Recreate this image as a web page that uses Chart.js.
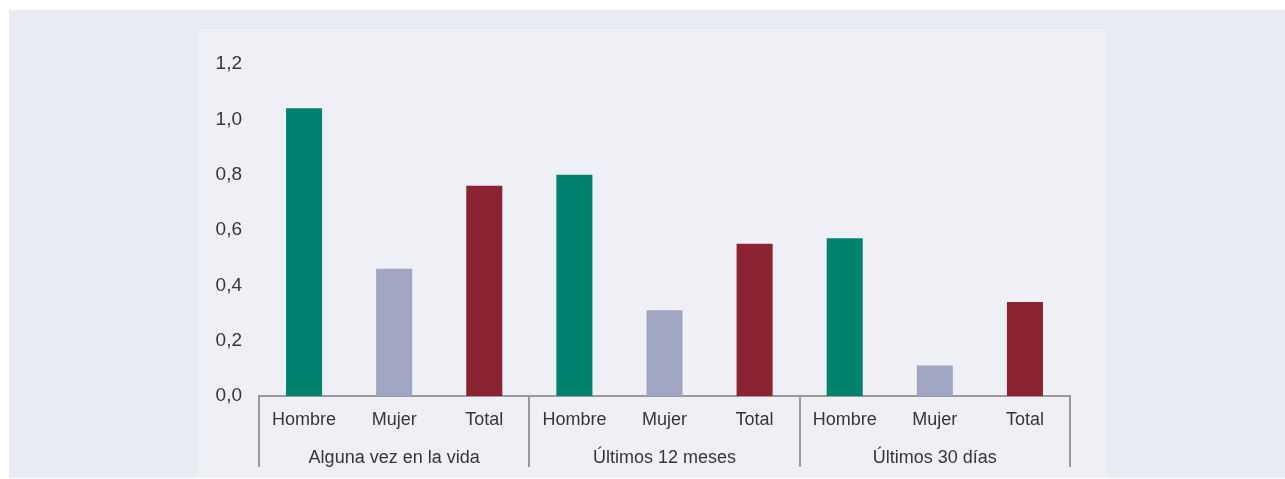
<!DOCTYPE html>
<html>
<head>
<meta charset="utf-8">
<script src="https://cdn.jsdelivr.net/npm/chart.js@4"></script>
<style>
  html, body { margin: 0; padding: 0; background: #ffffff; }
  body { width: 1285px; height: 479px; position: relative; overflow: hidden; }
  #outer { position: absolute; left: 9px; top: 10px; width: 1276px; height: 468px; background: #e9ebf3; }
  #inner { position: absolute; left: 197px; top: 29px; width: 910px; height: 449px; background: #eff0f5; }
  #c { position: absolute; left: 0; top: 0; }
</style>
</head>
<body>
<div id="outer"></div>
<div id="inner"></div>
<canvas id="c" width="1285" height="479"></canvas>
<script>
// ---- data ----
const groups = ['Alguna vez en la vida', 'Últimos 12 meses', 'Últimos 30 días'];
const sexes = ['Hombre', 'Mujer', 'Total'];
const hombre = [1.04, 0.80, 0.57];
const mujer  = [0.46, 0.31, 0.11];
const total  = [0.76, 0.55, 0.34];
const yTicks = ['0,0', '0,2', '0,4', '0,6', '0,8', '1,0', '1,2'];

const sexColors = ['#00826f', '#a0a6c1', '#8b2332'];

// build flat arrays for the library
const labels = [];
const values = [];
const colors = [];
groups.forEach((g, gi) => {
  [hombre, mujer, total].forEach((series, si) => {
    labels.push(sexes[si]);
    values.push(series[gi]);
    colors.push(sexColors[si]);
  });
});

const FONT = { family: '"Liberation Sans", Arial, sans-serif', size: 18 };
const YFONT = { family: '"Liberation Sans", Arial, sans-serif', size: 19 };
const TEXT = '#363636';
const AXIS = '#9a9a9a';

const dividers = {
  id: 'dividers',
  afterDraw(chart) {
    const x = chart.scales.x;
    const x2 = chart.scales.x2;
    const ctx = chart.ctx;
    const step = (x.right - x.left) / labels.length;
    ctx.save();
    ctx.strokeStyle = AXIS;
    ctx.lineWidth = 2;
    for (let i = 0; i <= groups.length; i++) {
      const px = Math.round(x.left + i * 3 * step);
      ctx.beginPath();
      ctx.moveTo(px, x.top);
      ctx.lineTo(px, x2.bottom - 12);
      ctx.stroke();
    }
    ctx.restore();
  }
};

new Chart(document.getElementById('c'), {
  type: 'bar',
  data: {
    labels: labels,
    datasets: [{
      data: values,
      backgroundColor: colors,
      barPercentage: 0.4,
      categoryPercentage: 1.0
    }]
  },
  options: {
    responsive: false,
    animation: false,
    layout: { padding: { left: 200, right: 215, top: 64, bottom: 0 } },
    plugins: { legend: { display: false }, tooltip: { enabled: false } },
    scales: {
      y: {
        min: 0, max: 1.2,
        ticks: {
          stepSize: 0.2,
          padding: 17,
          color: TEXT,
          font: YFONT,
          callback: (v, i) => yTicks[i]
        },
        grid: { display: false, drawTicks: false },
        border: { display: false },
        afterFit: s => { s.width = 59; }
      },
      x: {
        position: 'bottom',
        ticks: { color: TEXT, font: FONT, padding: 13, maxRotation: 0, autoSkip: false },
        grid: { display: false, drawTicks: false },
        border: { display: true, color: AXIS, width: 2 },
        afterFit: s => { s.height = 40; }
      },
      x2: {
        type: 'category',
        position: 'bottom',
        labels: groups,
        offset: true,
        ticks: { color: TEXT, font: FONT, padding: 11, maxRotation: 0, autoSkip: false },
        grid: { display: false, drawTicks: false },
        border: { display: false },
        afterFit: s => { s.height = 43; }
      }
    }
  },
  plugins: [dividers]
});
</script>
</body>
</html>
